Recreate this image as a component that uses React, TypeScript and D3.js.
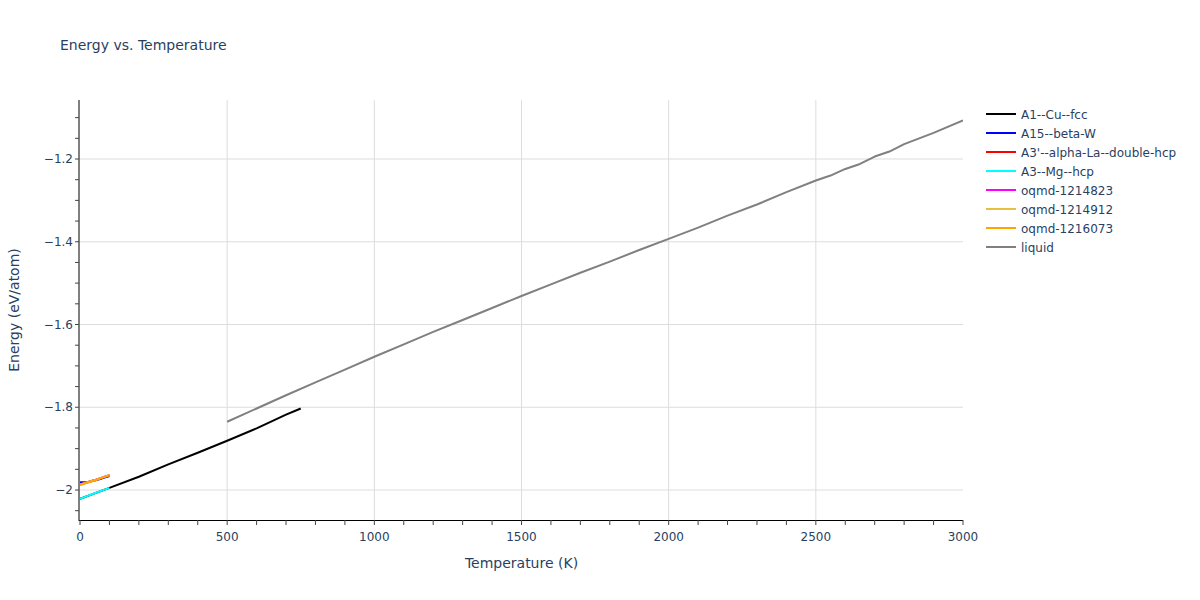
import React from "react";
import * as d3 from "d3";

const seriesNames = [
  "A1--Cu--fcc",
  "A15--beta-W",
  "A3'--alpha-La--double-hcp",
  "A3--Mg--hcp",
  "oqmd-1214823",
  "oqmd-1214912",
  "oqmd-1216073",
  "liquid",
];
const seriesColors = ["#000000", "#0000ff", "#ff0000", "#00ffff", "#ff00ff", "#e8c040", "#ffa500", "#808080"];

const cuT = [0, 100, 200, 300, 400, 500, 600, 700, 750];
const cuE = [-2.021, -1.995, -1.968, -1.938, -1.91, -1.881, -1.851, -1.818, -1.803];
const wT = [0, 25, 50, 75, 100];
const wE = [-1.981, -1.981, -1.977, -1.972, -1.966];
const laT = [0, 50, 100];
const laE = [-1.987, -1.976, -1.964];
const mgT = [0, 50, 100];
const mgE = [-2.021, -2.008, -1.995];
const q823T = [0, 50, 100];
const q823E = [-1.987, -1.976, -1.964];
const q912T = [0, 50, 100];
const q912E = [-1.987, -1.976, -1.964];
const q073T = [0, 50, 100];
const q073E = [-1.988, -1.977, -1.964];
const liqT = [500, 600, 700, 800, 900, 1000, 1100, 1200, 1300, 1400, 1500, 1600, 1700, 1800, 1900, 2000, 2100, 2200, 2300, 2400, 2500, 2550, 2600, 2650, 2700, 2750, 2800, 2900, 3000];
const liqE = [-1.835, -1.803, -1.771, -1.74, -1.709, -1.678, -1.648, -1.618, -1.589, -1.56, -1.531, -1.503, -1.475, -1.448, -1.42, -1.393, -1.366, -1.337, -1.31, -1.28, -1.252, -1.24, -1.224, -1.212, -1.194, -1.182, -1.164, -1.137, -1.107];

const seriesT = [cuT, wT, laT, mgT, q823T, q912T, q073T, liqT];
const seriesE = [cuE, wE, laE, mgE, q823E, q912E, q073E, liqE];

const xMajor = [0, 500, 1000, 1500, 2000, 2500, 3000];
const yMajor = [-2, -1.8, -1.6, -1.4, -1.2];

const FONT = "'DejaVu Sans', Verdana, sans-serif";
const TXT = "#2a3f5f";

export default function App() {
  const W = 1200, H = 600;
  const L = 80, R = 963, T = 100, B = 520;
  const x = d3.scaleLinear().domain([0, 3000]).range([L, R]);
  const y = d3.scaleLinear().domain([-2.0725, -1.0574]).range([B, T]);
  const line = d3.line<[number, number]>().x((d) => x(d[0])).y((d) => y(d[1]));
  const xMinor = d3.range(0, 3001, 100);
  const yMinor = d3.range(-2.05, -1.07, 0.05);
  const fmt = (v: number) => (v < 0 ? "\u2212" : "") + d3.format("")(Math.abs(+v.toFixed(2)));

  return (
    <svg width={W} height={H} style={{ position: "absolute", left: 0, top: 0, background: "#fff" }} fontFamily={FONT}>
      <rect x={0} y={0} width={W} height={H} fill="#fff" />
      <text x={60} y={50} fontSize={14} fill={TXT}>Energy vs. Temperature</text>
      {/* grid */}
      {xMajor.filter((v) => v > 0 && v < 3000).map((v) => (
        <line key={"gx" + v} x1={x(v)} x2={x(v)} y1={T} y2={B} stroke="#dddddd" strokeWidth={1} />
      ))}
      {yMajor.map((v) => (
        <line key={"gy" + v} x1={L} x2={R} y1={y(v)} y2={y(v)} stroke="#dddddd" strokeWidth={1} />
      ))}
      {/* series */}
      <g clipPath="url(#clip)">
        {seriesNames.map((n, i) => (
          <path key={n} d={line(seriesT[i].map((t, j) => [t, seriesE[i][j]] as [number, number])) || ""}
            fill="none" stroke={seriesColors[i]} strokeWidth={2} strokeLinejoin="round" />
        ))}
      </g>
      <defs>
        <clipPath id="clip"><rect x={L} y={T} width={R - L} height={B - T} /></clipPath>
      </defs>
      {/* axes */}
      <line x1={L - 1} x2={L - 1} y1={T} y2={B + 1} stroke="#000" strokeWidth={1} />
      <line x1={L - 1} x2={R} y1={B + 0.5} y2={B + 0.5} stroke="#000" strokeWidth={1} />
      {xMinor.map((v) => (
        <line key={"xt" + v} x1={x(v)} x2={x(v)} y1={B} y2={B + 5} stroke="#444" strokeWidth={1} />
      ))}
      {yMinor.map((v) => (
        <line key={"yt" + v} x1={L - 5} x2={L - 1} y1={y(v)} y2={y(v)} stroke="#444" strokeWidth={1} />
      ))}
      {xMajor.map((v) => (
        <text key={"xl" + v} x={x(v)} y={541} fontSize={12} fill={TXT} textAnchor="middle">{v}</text>
      ))}
      {yMajor.map((v) => (
        <text key={"yl" + v} x={73} y={y(v) + 4} fontSize={12} fill={TXT} textAnchor="end">{fmt(v)}</text>
      ))}
      <text x={(L + R) / 2} y={568} fontSize={14} fill={TXT} textAnchor="middle">Temperature (K)</text>
      <text transform={`translate(19,${(T + B) / 2}) rotate(-90)`} fontSize={14} fill={TXT} textAnchor="middle">Energy (eV/atom)</text>
      {/* legend */}
      {seriesNames.map((n, i) => (
        <g key={"lg" + n} transform={`translate(986,${114 + i * 19})`}>
          <line x1={0} x2={30} y1={0} y2={0} stroke={seriesColors[i]} strokeWidth={2} />
          <text x={35} y={4.5} fontSize={12} fill={TXT}>{n}</text>
        </g>
      ))}
    </svg>
  );
}
